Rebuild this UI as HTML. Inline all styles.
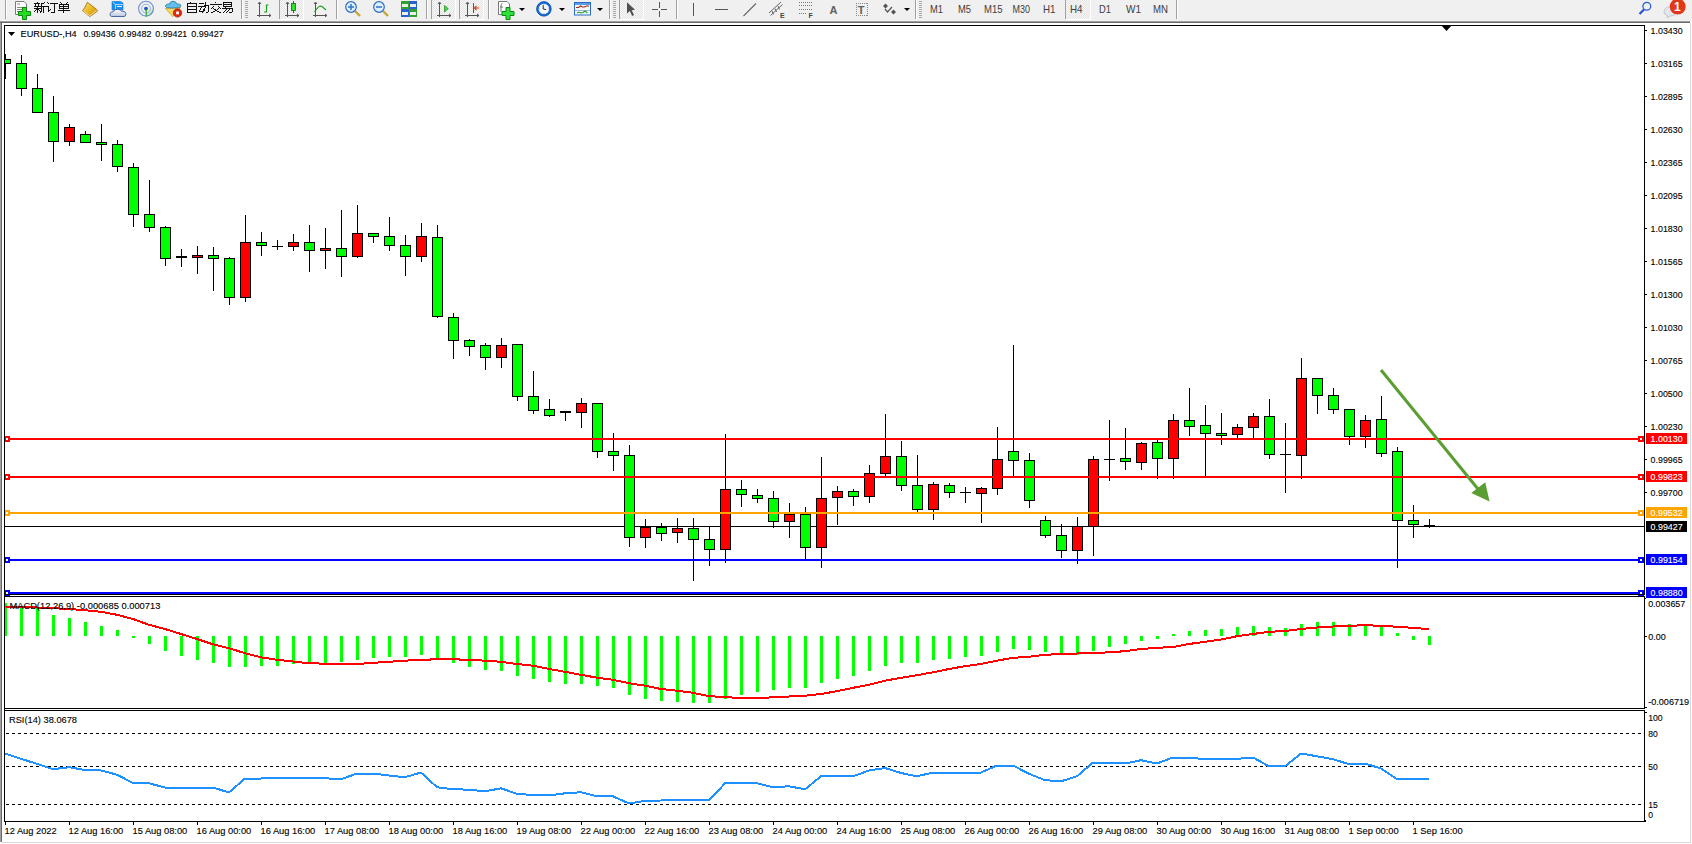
<!DOCTYPE html><html><head><meta charset="utf-8"><title>EURUSD H4</title><style>html,body{margin:0;padding:0;background:#fff;width:1692px;height:844px;overflow:hidden}svg{display:block}text{font-family:"Liberation Sans",sans-serif}</style></head><body>
<svg width="1692" height="844" viewBox="0 0 1692 844">
<g shape-rendering="crispEdges">
<rect x="0" y="0" width="1692" height="844" fill="#ffffff"/>
<rect x="0" y="0" width="1692" height="21" fill="#F0F0F0"/>
<rect x="0" y="21" width="1690" height="1" fill="#A0A0A0"/>
<rect x="0" y="22" width="1690" height="1" fill="#696969"/>
<rect x="0" y="23" width="1" height="819" fill="#A0A0A0"/>
<rect x="1" y="23" width="1" height="819" fill="#696969"/>
<rect x="1690" y="23" width="1" height="819" fill="#D8D8D8"/>
<rect x="2" y="842" width="1689" height="1" fill="#D8D8D8"/>
</g>
<g shape-rendering="crispEdges">
<rect x="5" y="526" width="1639" height="1" fill="#000"/>
<defs><clipPath id="mainclip"><rect x="5" y="26" width="1639" height="568"/></clipPath></defs>
<g clip-path="url(#mainclip)">
<rect x="5" y="54" width="1" height="25" fill="#000"/>
<rect x="0" y="59" width="11" height="5" fill="#000"/>
<rect x="1" y="60" width="9" height="3" fill="#00FF00"/>
<rect x="21" y="55" width="1" height="41" fill="#000"/>
<rect x="16" y="63" width="11" height="26" fill="#000"/>
<rect x="17" y="64" width="9" height="24" fill="#00FF00"/>
<rect x="37" y="74" width="1" height="39" fill="#000"/>
<rect x="32" y="88" width="11" height="25" fill="#000"/>
<rect x="33" y="89" width="9" height="23" fill="#00FF00"/>
<rect x="53" y="96" width="1" height="66" fill="#000"/>
<rect x="48" y="112" width="11" height="30" fill="#000"/>
<rect x="49" y="113" width="9" height="28" fill="#00FF00"/>
<rect x="69" y="124" width="1" height="22" fill="#000"/>
<rect x="64" y="127" width="11" height="15" fill="#000"/>
<rect x="65" y="128" width="9" height="13" fill="#FF0000"/>
<rect x="85" y="131" width="1" height="12" fill="#000"/>
<rect x="80" y="134" width="11" height="9" fill="#000"/>
<rect x="81" y="135" width="9" height="7" fill="#00FF00"/>
<rect x="101" y="124" width="1" height="37" fill="#000"/>
<rect x="96" y="142" width="11" height="3" fill="#000"/>
<rect x="97" y="143" width="9" height="1" fill="#00FF00"/>
<rect x="117" y="140" width="1" height="32" fill="#000"/>
<rect x="112" y="144" width="11" height="23" fill="#000"/>
<rect x="113" y="145" width="9" height="21" fill="#00FF00"/>
<rect x="133" y="163" width="1" height="64" fill="#000"/>
<rect x="128" y="167" width="11" height="48" fill="#000"/>
<rect x="129" y="168" width="9" height="46" fill="#00FF00"/>
<rect x="149" y="180" width="1" height="52" fill="#000"/>
<rect x="144" y="214" width="11" height="14" fill="#000"/>
<rect x="145" y="215" width="9" height="12" fill="#00FF00"/>
<rect x="165" y="226" width="1" height="40" fill="#000"/>
<rect x="160" y="227" width="11" height="32" fill="#000"/>
<rect x="161" y="228" width="9" height="30" fill="#00FF00"/>
<rect x="181" y="249" width="1" height="18" fill="#000"/>
<rect x="176" y="256" width="11" height="2" fill="#000"/>
<rect x="197" y="246" width="1" height="28" fill="#000"/>
<rect x="192" y="255" width="11" height="3" fill="#000"/>
<rect x="193" y="256" width="9" height="1" fill="#FF0000"/>
<rect x="213" y="247" width="1" height="44" fill="#000"/>
<rect x="208" y="255" width="11" height="4" fill="#000"/>
<rect x="209" y="256" width="9" height="2" fill="#00FF00"/>
<rect x="229" y="257" width="1" height="48" fill="#000"/>
<rect x="224" y="258" width="11" height="40" fill="#000"/>
<rect x="225" y="259" width="9" height="38" fill="#00FF00"/>
<rect x="245" y="215" width="1" height="87" fill="#000"/>
<rect x="240" y="242" width="11" height="56" fill="#000"/>
<rect x="241" y="243" width="9" height="54" fill="#FF0000"/>
<rect x="261" y="232" width="1" height="24" fill="#000"/>
<rect x="256" y="242" width="11" height="4" fill="#000"/>
<rect x="257" y="243" width="9" height="2" fill="#00FF00"/>
<rect x="277" y="240" width="1" height="10" fill="#000"/>
<rect x="272" y="246" width="11" height="1" fill="#000"/>
<rect x="293" y="234" width="1" height="17" fill="#000"/>
<rect x="288" y="242" width="11" height="5" fill="#000"/>
<rect x="289" y="243" width="9" height="3" fill="#FF0000"/>
<rect x="309" y="225" width="1" height="47" fill="#000"/>
<rect x="304" y="242" width="11" height="9" fill="#000"/>
<rect x="305" y="243" width="9" height="7" fill="#00FF00"/>
<rect x="325" y="228" width="1" height="41" fill="#000"/>
<rect x="320" y="248" width="11" height="3" fill="#000"/>
<rect x="321" y="249" width="9" height="1" fill="#FF0000"/>
<rect x="341" y="210" width="1" height="67" fill="#000"/>
<rect x="336" y="248" width="11" height="9" fill="#000"/>
<rect x="337" y="249" width="9" height="7" fill="#00FF00"/>
<rect x="357" y="205" width="1" height="53" fill="#000"/>
<rect x="352" y="233" width="11" height="24" fill="#000"/>
<rect x="353" y="234" width="9" height="22" fill="#FF0000"/>
<rect x="373" y="233" width="1" height="10" fill="#000"/>
<rect x="368" y="233" width="11" height="4" fill="#000"/>
<rect x="369" y="234" width="9" height="2" fill="#00FF00"/>
<rect x="389" y="217" width="1" height="34" fill="#000"/>
<rect x="384" y="236" width="11" height="10" fill="#000"/>
<rect x="385" y="237" width="9" height="8" fill="#00FF00"/>
<rect x="405" y="235" width="1" height="41" fill="#000"/>
<rect x="400" y="245" width="11" height="12" fill="#000"/>
<rect x="401" y="246" width="9" height="10" fill="#00FF00"/>
<rect x="421" y="223" width="1" height="39" fill="#000"/>
<rect x="416" y="236" width="11" height="21" fill="#000"/>
<rect x="417" y="237" width="9" height="19" fill="#FF0000"/>
<rect x="437" y="225" width="1" height="93" fill="#000"/>
<rect x="432" y="237" width="11" height="80" fill="#000"/>
<rect x="433" y="238" width="9" height="78" fill="#00FF00"/>
<rect x="453" y="313" width="1" height="46" fill="#000"/>
<rect x="448" y="317" width="11" height="24" fill="#000"/>
<rect x="449" y="318" width="9" height="22" fill="#00FF00"/>
<rect x="469" y="339" width="1" height="17" fill="#000"/>
<rect x="464" y="340" width="11" height="7" fill="#000"/>
<rect x="465" y="341" width="9" height="5" fill="#00FF00"/>
<rect x="485" y="343" width="1" height="27" fill="#000"/>
<rect x="480" y="345" width="11" height="13" fill="#000"/>
<rect x="481" y="346" width="9" height="11" fill="#00FF00"/>
<rect x="501" y="338" width="1" height="30" fill="#000"/>
<rect x="496" y="345" width="11" height="13" fill="#000"/>
<rect x="497" y="346" width="9" height="11" fill="#FF0000"/>
<rect x="517" y="344" width="1" height="57" fill="#000"/>
<rect x="512" y="344" width="11" height="53" fill="#000"/>
<rect x="513" y="345" width="9" height="51" fill="#00FF00"/>
<rect x="533" y="371" width="1" height="43" fill="#000"/>
<rect x="528" y="396" width="11" height="15" fill="#000"/>
<rect x="529" y="397" width="9" height="13" fill="#00FF00"/>
<rect x="549" y="399" width="1" height="18" fill="#000"/>
<rect x="544" y="409" width="11" height="7" fill="#000"/>
<rect x="545" y="410" width="9" height="5" fill="#00FF00"/>
<rect x="565" y="411" width="1" height="10" fill="#000"/>
<rect x="560" y="411" width="11" height="2" fill="#000"/>
<rect x="581" y="398" width="1" height="30" fill="#000"/>
<rect x="576" y="403" width="11" height="10" fill="#000"/>
<rect x="577" y="404" width="9" height="8" fill="#FF0000"/>
<rect x="597" y="403" width="1" height="55" fill="#000"/>
<rect x="592" y="403" width="11" height="49" fill="#000"/>
<rect x="593" y="404" width="9" height="47" fill="#00FF00"/>
<rect x="613" y="433" width="1" height="38" fill="#000"/>
<rect x="608" y="451" width="11" height="5" fill="#000"/>
<rect x="609" y="452" width="9" height="3" fill="#00FF00"/>
<rect x="629" y="445" width="1" height="102" fill="#000"/>
<rect x="624" y="455" width="11" height="83" fill="#000"/>
<rect x="625" y="456" width="9" height="81" fill="#00FF00"/>
<rect x="645" y="519" width="1" height="29" fill="#000"/>
<rect x="640" y="527" width="11" height="11" fill="#000"/>
<rect x="641" y="528" width="9" height="9" fill="#FF0000"/>
<rect x="661" y="523" width="1" height="18" fill="#000"/>
<rect x="656" y="527" width="11" height="7" fill="#000"/>
<rect x="657" y="528" width="9" height="5" fill="#00FF00"/>
<rect x="677" y="518" width="1" height="25" fill="#000"/>
<rect x="672" y="528" width="11" height="5" fill="#000"/>
<rect x="673" y="529" width="9" height="3" fill="#FF0000"/>
<rect x="693" y="518" width="1" height="63" fill="#000"/>
<rect x="688" y="528" width="11" height="12" fill="#000"/>
<rect x="689" y="529" width="9" height="10" fill="#00FF00"/>
<rect x="709" y="526" width="1" height="40" fill="#000"/>
<rect x="704" y="539" width="11" height="11" fill="#000"/>
<rect x="705" y="540" width="9" height="9" fill="#00FF00"/>
<rect x="725" y="434" width="1" height="129" fill="#000"/>
<rect x="720" y="489" width="11" height="61" fill="#000"/>
<rect x="721" y="490" width="9" height="59" fill="#FF0000"/>
<rect x="741" y="480" width="1" height="27" fill="#000"/>
<rect x="736" y="489" width="11" height="6" fill="#000"/>
<rect x="737" y="490" width="9" height="4" fill="#00FF00"/>
<rect x="757" y="489" width="1" height="14" fill="#000"/>
<rect x="752" y="495" width="11" height="4" fill="#000"/>
<rect x="753" y="496" width="9" height="2" fill="#00FF00"/>
<rect x="773" y="491" width="1" height="37" fill="#000"/>
<rect x="768" y="498" width="11" height="24" fill="#000"/>
<rect x="769" y="499" width="9" height="22" fill="#00FF00"/>
<rect x="789" y="503" width="1" height="35" fill="#000"/>
<rect x="784" y="514" width="11" height="8" fill="#000"/>
<rect x="785" y="515" width="9" height="6" fill="#FF0000"/>
<rect x="805" y="507" width="1" height="53" fill="#000"/>
<rect x="800" y="514" width="11" height="34" fill="#000"/>
<rect x="801" y="515" width="9" height="32" fill="#00FF00"/>
<rect x="821" y="457" width="1" height="111" fill="#000"/>
<rect x="816" y="498" width="11" height="50" fill="#000"/>
<rect x="817" y="499" width="9" height="48" fill="#FF0000"/>
<rect x="837" y="486" width="1" height="39" fill="#000"/>
<rect x="832" y="491" width="11" height="7" fill="#000"/>
<rect x="833" y="492" width="9" height="5" fill="#FF0000"/>
<rect x="853" y="489" width="1" height="17" fill="#000"/>
<rect x="848" y="491" width="11" height="6" fill="#000"/>
<rect x="849" y="492" width="9" height="4" fill="#00FF00"/>
<rect x="869" y="465" width="1" height="38" fill="#000"/>
<rect x="864" y="473" width="11" height="24" fill="#000"/>
<rect x="865" y="474" width="9" height="22" fill="#FF0000"/>
<rect x="885" y="414" width="1" height="63" fill="#000"/>
<rect x="880" y="456" width="11" height="18" fill="#000"/>
<rect x="881" y="457" width="9" height="16" fill="#FF0000"/>
<rect x="901" y="441" width="1" height="50" fill="#000"/>
<rect x="896" y="456" width="11" height="30" fill="#000"/>
<rect x="897" y="457" width="9" height="28" fill="#00FF00"/>
<rect x="917" y="455" width="1" height="57" fill="#000"/>
<rect x="912" y="485" width="11" height="25" fill="#000"/>
<rect x="913" y="486" width="9" height="23" fill="#00FF00"/>
<rect x="933" y="482" width="1" height="38" fill="#000"/>
<rect x="928" y="484" width="11" height="26" fill="#000"/>
<rect x="929" y="485" width="9" height="24" fill="#FF0000"/>
<rect x="949" y="483" width="1" height="15" fill="#000"/>
<rect x="944" y="485" width="11" height="8" fill="#000"/>
<rect x="945" y="486" width="9" height="6" fill="#00FF00"/>
<rect x="965" y="487" width="1" height="16" fill="#000"/>
<rect x="960" y="492" width="11" height="1" fill="#000"/>
<rect x="981" y="487" width="1" height="36" fill="#000"/>
<rect x="976" y="488" width="11" height="6" fill="#000"/>
<rect x="977" y="489" width="9" height="4" fill="#FF0000"/>
<rect x="997" y="427" width="1" height="68" fill="#000"/>
<rect x="992" y="459" width="11" height="30" fill="#000"/>
<rect x="993" y="460" width="9" height="28" fill="#FF0000"/>
<rect x="1013" y="345" width="1" height="132" fill="#000"/>
<rect x="1008" y="451" width="11" height="10" fill="#000"/>
<rect x="1009" y="452" width="9" height="8" fill="#00FF00"/>
<rect x="1029" y="453" width="1" height="55" fill="#000"/>
<rect x="1024" y="460" width="11" height="41" fill="#000"/>
<rect x="1025" y="461" width="9" height="39" fill="#00FF00"/>
<rect x="1045" y="516" width="1" height="22" fill="#000"/>
<rect x="1040" y="520" width="11" height="16" fill="#000"/>
<rect x="1041" y="521" width="9" height="14" fill="#00FF00"/>
<rect x="1061" y="524" width="1" height="34" fill="#000"/>
<rect x="1056" y="535" width="11" height="16" fill="#000"/>
<rect x="1057" y="536" width="9" height="14" fill="#00FF00"/>
<rect x="1077" y="517" width="1" height="47" fill="#000"/>
<rect x="1072" y="526" width="11" height="25" fill="#000"/>
<rect x="1073" y="527" width="9" height="23" fill="#FF0000"/>
<rect x="1093" y="456" width="1" height="100" fill="#000"/>
<rect x="1088" y="459" width="11" height="68" fill="#000"/>
<rect x="1089" y="460" width="9" height="66" fill="#FF0000"/>
<rect x="1109" y="420" width="1" height="61" fill="#000"/>
<rect x="1104" y="459" width="11" height="1" fill="#000"/>
<rect x="1125" y="428" width="1" height="42" fill="#000"/>
<rect x="1120" y="458" width="11" height="4" fill="#000"/>
<rect x="1121" y="459" width="9" height="2" fill="#00FF00"/>
<rect x="1141" y="442" width="1" height="28" fill="#000"/>
<rect x="1136" y="443" width="11" height="20" fill="#000"/>
<rect x="1137" y="444" width="9" height="18" fill="#FF0000"/>
<rect x="1157" y="440" width="1" height="39" fill="#000"/>
<rect x="1152" y="442" width="11" height="17" fill="#000"/>
<rect x="1153" y="443" width="9" height="15" fill="#00FF00"/>
<rect x="1173" y="414" width="1" height="65" fill="#000"/>
<rect x="1168" y="420" width="11" height="39" fill="#000"/>
<rect x="1169" y="421" width="9" height="37" fill="#FF0000"/>
<rect x="1189" y="388" width="1" height="48" fill="#000"/>
<rect x="1184" y="420" width="11" height="7" fill="#000"/>
<rect x="1185" y="421" width="9" height="5" fill="#00FF00"/>
<rect x="1205" y="405" width="1" height="72" fill="#000"/>
<rect x="1200" y="425" width="11" height="9" fill="#000"/>
<rect x="1201" y="426" width="9" height="7" fill="#00FF00"/>
<rect x="1221" y="413" width="1" height="32" fill="#000"/>
<rect x="1216" y="433" width="11" height="3" fill="#000"/>
<rect x="1217" y="434" width="9" height="1" fill="#00FF00"/>
<rect x="1237" y="424" width="1" height="15" fill="#000"/>
<rect x="1232" y="427" width="11" height="8" fill="#000"/>
<rect x="1233" y="428" width="9" height="6" fill="#FF0000"/>
<rect x="1253" y="413" width="1" height="25" fill="#000"/>
<rect x="1248" y="416" width="11" height="12" fill="#000"/>
<rect x="1249" y="417" width="9" height="10" fill="#FF0000"/>
<rect x="1269" y="399" width="1" height="60" fill="#000"/>
<rect x="1264" y="416" width="11" height="39" fill="#000"/>
<rect x="1265" y="417" width="9" height="37" fill="#00FF00"/>
<rect x="1285" y="423" width="1" height="70" fill="#000"/>
<rect x="1280" y="454" width="11" height="1" fill="#000"/>
<rect x="1301" y="358" width="1" height="121" fill="#000"/>
<rect x="1296" y="378" width="11" height="78" fill="#000"/>
<rect x="1297" y="379" width="9" height="76" fill="#FF0000"/>
<rect x="1317" y="378" width="1" height="36" fill="#000"/>
<rect x="1312" y="378" width="11" height="18" fill="#000"/>
<rect x="1313" y="379" width="9" height="16" fill="#00FF00"/>
<rect x="1333" y="388" width="1" height="26" fill="#000"/>
<rect x="1328" y="395" width="11" height="15" fill="#000"/>
<rect x="1329" y="396" width="9" height="13" fill="#00FF00"/>
<rect x="1349" y="409" width="1" height="36" fill="#000"/>
<rect x="1344" y="409" width="11" height="28" fill="#000"/>
<rect x="1345" y="410" width="9" height="26" fill="#00FF00"/>
<rect x="1365" y="415" width="1" height="33" fill="#000"/>
<rect x="1360" y="420" width="11" height="17" fill="#000"/>
<rect x="1361" y="421" width="9" height="15" fill="#FF0000"/>
<rect x="1381" y="396" width="1" height="61" fill="#000"/>
<rect x="1376" y="419" width="11" height="35" fill="#000"/>
<rect x="1377" y="420" width="9" height="33" fill="#00FF00"/>
<rect x="1397" y="447" width="1" height="121" fill="#000"/>
<rect x="1392" y="451" width="11" height="70" fill="#000"/>
<rect x="1393" y="452" width="9" height="68" fill="#00FF00"/>
<rect x="1413" y="505" width="1" height="33" fill="#000"/>
<rect x="1408" y="520" width="11" height="5" fill="#000"/>
<rect x="1409" y="521" width="9" height="3" fill="#00FF00"/>
<rect x="1429" y="519" width="1" height="9" fill="#000"/>
<rect x="1424" y="525" width="11" height="1" fill="#000"/>
</g>
<rect x="5" y="438" width="1639" height="2" fill="#FF0000"/>
<rect x="4" y="436" width="6" height="6" fill="#FF0000"/>
<rect x="6" y="438" width="2" height="2" fill="#fff"/>
<rect x="1638" y="436" width="6" height="6" fill="#FF0000"/>
<rect x="1640" y="438" width="2" height="2" fill="#fff"/>
<rect x="5" y="476" width="1639" height="2" fill="#FF0000"/>
<rect x="4" y="474" width="6" height="6" fill="#FF0000"/>
<rect x="6" y="476" width="2" height="2" fill="#fff"/>
<rect x="1638" y="474" width="6" height="6" fill="#FF0000"/>
<rect x="1640" y="476" width="2" height="2" fill="#fff"/>
<rect x="5" y="512" width="1639" height="2" fill="#FFA500"/>
<rect x="4" y="510" width="6" height="6" fill="#FFA500"/>
<rect x="6" y="512" width="2" height="2" fill="#fff"/>
<rect x="1638" y="510" width="6" height="6" fill="#FFA500"/>
<rect x="1640" y="512" width="2" height="2" fill="#fff"/>
<rect x="5" y="559" width="1639" height="2" fill="#0000FF"/>
<rect x="4" y="557" width="6" height="6" fill="#0000FF"/>
<rect x="6" y="559" width="2" height="2" fill="#fff"/>
<rect x="1638" y="557" width="6" height="6" fill="#0000FF"/>
<rect x="1640" y="559" width="2" height="2" fill="#fff"/>
<rect x="5" y="592" width="1639" height="2" fill="#0000FF"/>
<rect x="4" y="590" width="6" height="6" fill="#0000FF"/>
<rect x="6" y="592" width="2" height="2" fill="#fff"/>
<rect x="1638" y="590" width="6" height="6" fill="#0000FF"/>
<rect x="1640" y="592" width="2" height="2" fill="#fff"/>
</g>
<g fill="#5A9E32" stroke="none">
<line x1="1381" y1="370" x2="1478" y2="489" stroke="#5A9E32" stroke-width="3"/>
<polygon points="1471.3,492.9 1485.2,482.3 1489.6,501.5"/>
</g>
<polygon points="8,32 15,32 11.5,36" fill="#000"/>
<text x="20.6" y="37" font-size="9.6" stroke="#000" stroke-width="0.12" textLength="56" lengthAdjust="spacingAndGlyphs" fill="#000">EURUSD-,H4</text>
<text x="83.4" y="37" font-size="9.6" stroke="#000" stroke-width="0.12" textLength="32.2" lengthAdjust="spacingAndGlyphs" fill="#000">0.99436</text>
<text x="119" y="37" font-size="9.6" stroke="#000" stroke-width="0.12" textLength="32.5" lengthAdjust="spacingAndGlyphs" fill="#000">0.99482</text>
<text x="155.3" y="37" font-size="9.6" stroke="#000" stroke-width="0.12" textLength="31.9" lengthAdjust="spacingAndGlyphs" fill="#000">0.99421</text>
<text x="191.2" y="37" font-size="9.6" stroke="#000" stroke-width="0.12" textLength="32.6" lengthAdjust="spacingAndGlyphs" fill="#000">0.99427</text>
<polygon points="1441,25 1452,25 1446.5,31" fill="#000"/>
<g shape-rendering="crispEdges">
<rect x="5" y="603" width="2" height="33" fill="#00FF00"/>
<rect x="20" y="606" width="3" height="30" fill="#00FF00"/>
<rect x="36" y="608" width="3" height="28" fill="#00FF00"/>
<rect x="52" y="615" width="3" height="21" fill="#00FF00"/>
<rect x="68" y="618" width="3" height="18" fill="#00FF00"/>
<rect x="84" y="622" width="3" height="14" fill="#00FF00"/>
<rect x="100" y="626" width="3" height="10" fill="#00FF00"/>
<rect x="116" y="630" width="3" height="6" fill="#00FF00"/>
<rect x="132" y="636" width="3" height="2" fill="#00FF00"/>
<rect x="148" y="636" width="3" height="8" fill="#00FF00"/>
<rect x="164" y="636" width="3" height="15" fill="#00FF00"/>
<rect x="180" y="636" width="3" height="20" fill="#00FF00"/>
<rect x="196" y="636" width="3" height="24" fill="#00FF00"/>
<rect x="212" y="636" width="3" height="27" fill="#00FF00"/>
<rect x="228" y="636" width="3" height="31" fill="#00FF00"/>
<rect x="244" y="636" width="3" height="31" fill="#00FF00"/>
<rect x="260" y="636" width="3" height="30" fill="#00FF00"/>
<rect x="276" y="636" width="3" height="30" fill="#00FF00"/>
<rect x="292" y="636" width="3" height="28" fill="#00FF00"/>
<rect x="308" y="636" width="3" height="26" fill="#00FF00"/>
<rect x="324" y="636" width="3" height="27" fill="#00FF00"/>
<rect x="340" y="636" width="3" height="26" fill="#00FF00"/>
<rect x="356" y="636" width="3" height="24" fill="#00FF00"/>
<rect x="372" y="636" width="3" height="22" fill="#00FF00"/>
<rect x="388" y="636" width="3" height="21" fill="#00FF00"/>
<rect x="404" y="636" width="3" height="21" fill="#00FF00"/>
<rect x="420" y="636" width="3" height="19" fill="#00FF00"/>
<rect x="436" y="636" width="3" height="22" fill="#00FF00"/>
<rect x="452" y="636" width="3" height="27" fill="#00FF00"/>
<rect x="468" y="636" width="3" height="31" fill="#00FF00"/>
<rect x="484" y="636" width="3" height="34" fill="#00FF00"/>
<rect x="500" y="636" width="3" height="35" fill="#00FF00"/>
<rect x="516" y="636" width="3" height="40" fill="#00FF00"/>
<rect x="532" y="636" width="3" height="43" fill="#00FF00"/>
<rect x="548" y="636" width="3" height="46" fill="#00FF00"/>
<rect x="564" y="636" width="3" height="48" fill="#00FF00"/>
<rect x="580" y="636" width="3" height="48" fill="#00FF00"/>
<rect x="596" y="636" width="3" height="50" fill="#00FF00"/>
<rect x="612" y="636" width="3" height="52" fill="#00FF00"/>
<rect x="628" y="636" width="3" height="59" fill="#00FF00"/>
<rect x="644" y="636" width="3" height="63" fill="#00FF00"/>
<rect x="660" y="636" width="3" height="65" fill="#00FF00"/>
<rect x="676" y="636" width="3" height="66" fill="#00FF00"/>
<rect x="692" y="636" width="3" height="67" fill="#00FF00"/>
<rect x="708" y="636" width="3" height="67" fill="#00FF00"/>
<rect x="724" y="636" width="3" height="63" fill="#00FF00"/>
<rect x="740" y="636" width="3" height="59" fill="#00FF00"/>
<rect x="756" y="636" width="3" height="56" fill="#00FF00"/>
<rect x="772" y="636" width="3" height="54" fill="#00FF00"/>
<rect x="788" y="636" width="3" height="52" fill="#00FF00"/>
<rect x="804" y="636" width="3" height="52" fill="#00FF00"/>
<rect x="820" y="636" width="3" height="47" fill="#00FF00"/>
<rect x="836" y="636" width="3" height="43" fill="#00FF00"/>
<rect x="852" y="636" width="3" height="40" fill="#00FF00"/>
<rect x="868" y="636" width="3" height="35" fill="#00FF00"/>
<rect x="884" y="636" width="3" height="30" fill="#00FF00"/>
<rect x="900" y="636" width="3" height="27" fill="#00FF00"/>
<rect x="916" y="636" width="3" height="27" fill="#00FF00"/>
<rect x="932" y="636" width="3" height="24" fill="#00FF00"/>
<rect x="948" y="636" width="3" height="23" fill="#00FF00"/>
<rect x="964" y="636" width="3" height="21" fill="#00FF00"/>
<rect x="980" y="636" width="3" height="20" fill="#00FF00"/>
<rect x="996" y="636" width="3" height="16" fill="#00FF00"/>
<rect x="1012" y="636" width="3" height="13" fill="#00FF00"/>
<rect x="1028" y="636" width="3" height="14" fill="#00FF00"/>
<rect x="1044" y="636" width="3" height="16" fill="#00FF00"/>
<rect x="1060" y="636" width="3" height="19" fill="#00FF00"/>
<rect x="1076" y="636" width="3" height="19" fill="#00FF00"/>
<rect x="1092" y="636" width="3" height="15" fill="#00FF00"/>
<rect x="1108" y="636" width="3" height="11" fill="#00FF00"/>
<rect x="1124" y="636" width="3" height="8" fill="#00FF00"/>
<rect x="1140" y="636" width="3" height="5" fill="#00FF00"/>
<rect x="1156" y="636" width="3" height="3" fill="#00FF00"/>
<rect x="1172" y="634" width="3" height="2" fill="#00FF00"/>
<rect x="1188" y="631" width="3" height="5" fill="#00FF00"/>
<rect x="1204" y="630" width="3" height="6" fill="#00FF00"/>
<rect x="1220" y="629" width="3" height="7" fill="#00FF00"/>
<rect x="1236" y="627" width="3" height="9" fill="#00FF00"/>
<rect x="1252" y="626" width="3" height="10" fill="#00FF00"/>
<rect x="1268" y="627" width="3" height="9" fill="#00FF00"/>
<rect x="1284" y="628" width="3" height="8" fill="#00FF00"/>
<rect x="1300" y="624" width="3" height="12" fill="#00FF00"/>
<rect x="1316" y="622" width="3" height="14" fill="#00FF00"/>
<rect x="1332" y="622" width="3" height="14" fill="#00FF00"/>
<rect x="1348" y="624" width="3" height="12" fill="#00FF00"/>
<rect x="1364" y="625" width="3" height="11" fill="#00FF00"/>
<rect x="1380" y="626" width="3" height="10" fill="#00FF00"/>
<rect x="1396" y="633" width="3" height="3" fill="#00FF00"/>
<rect x="1412" y="636" width="3" height="4" fill="#00FF00"/>
<rect x="1428" y="636" width="3" height="9" fill="#00FF00"/>
</g>
<polyline points="5,606.5 21,606.8 37,607.5 53,608.2 69,609.0 85,610.2 101,611.8 117,614.8 133,619.0 149,624.8 165,629.0 181,634.0 197,639.0 213,644.3 229,648.2 245,653.2 261,657.3 277,659.8 293,661.5 309,663.2 325,663.7 341,664.3 357,664.0 373,662.8 389,661.8 405,660.7 421,659.8 437,659.3 453,659.3 469,659.8 485,660.7 501,661.8 517,664.0 533,665.7 549,669.0 565,671.8 581,674.8 597,677.7 613,679.8 629,683.2 645,685.7 661,689.0 677,690.7 693,692.8 709,696.2 725,697.0 741,698.2 757,698.2 773,697.3 789,696.5 805,695.7 821,694.0 837,691.2 853,687.8 869,684.8 885,680.7 901,677.8 917,675.2 933,672.3 949,669.0 965,666.2 981,664.0 997,660.7 1013,657.8 1029,656.8 1045,654.8 1061,654.0 1077,653.5 1093,653.2 1109,652.3 1125,651.2 1141,649.0 1157,647.8 1173,647.0 1189,644.0 1205,641.8 1221,639.5 1237,636.2 1253,634.0 1269,631.8 1285,631.0 1301,629.0 1317,627.5 1333,626.5 1349,625.7 1365,625.3 1381,625.7 1397,626.8 1413,627.8 1429,629.3" fill="none" stroke="#FF0000" stroke-width="2" shape-rendering="crispEdges"/>
<text x="9.4" y="609" font-size="9.6" stroke="#000" stroke-width="0.12" textLength="151" lengthAdjust="spacingAndGlyphs" fill="#000">MACD(12,26,9) -0.000685 0.000713</text>
<g shape-rendering="crispEdges">
<line x1="6" y1="733.5" x2="1642" y2="733.5" stroke="#000" stroke-width="1" stroke-dasharray="3 3"/>
<line x1="6" y1="766.5" x2="1642" y2="766.5" stroke="#000" stroke-width="1" stroke-dasharray="3 3"/>
<line x1="6" y1="804.5" x2="1642" y2="804.5" stroke="#000" stroke-width="1" stroke-dasharray="3 3"/>
</g>
<polyline points="5,753.5 21,758.8 37,763.8 53,769.2 69,767.2 85,770.0 101,770.5 117,774.7 133,783.0 149,783.3 165,787.5 181,787.5 197,787.5 213,787.5 229,792.5 245,778.5 261,778.5 277,778.3 293,777.5 309,778.3 325,778.3 341,779.2 357,773.5 373,773.5 389,775.5 405,777.2 421,772.5 437,787.2 453,789.2 469,789.7 485,791.3 501,788.3 517,793.8 533,795.0 549,795.5 565,793.3 581,792.2 597,796.3 613,796.3 629,803.5 645,800.8 661,800.5 677,799.7 693,800.2 709,800.5 725,783.3 741,783.3 757,783.3 773,787.2 789,786.3 805,789.3 821,776.3 837,776.3 853,776.3 869,770.5 885,768.0 901,773.0 917,776.3 933,772.5 949,772.5 965,772.5 981,772.5 997,765.5 1013,765.5 1029,773.8 1045,780.2 1061,781.3 1077,776.3 1093,762.5 1109,762.5 1125,763.5 1141,760.2 1157,763.5 1173,757.5 1189,757.5 1205,759.2 1221,759.2 1237,758.8 1253,757.5 1269,766.3 1285,766.3 1301,753.5 1317,756.3 1333,759.2 1349,764.2 1365,763.5 1381,768.5 1397,779.2 1413,779.2 1429,779.2" fill="none" stroke="#1E90FF" stroke-width="2" shape-rendering="crispEdges"/>
<text x="9" y="723" font-size="9.6" stroke="#000" stroke-width="0.12" textLength="68" lengthAdjust="spacingAndGlyphs" fill="#000">RSI(14) 38.0678</text>
<g shape-rendering="crispEdges" fill="#000">
<rect x="4" y="25" width="1641" height="1"/>
<rect x="4" y="594" width="1641" height="1"/>
<rect x="4" y="596" width="1641" height="1"/>
<rect x="4" y="708" width="1641" height="1"/><rect x="1645" y="707" width="2" height="1"/>
<rect x="4" y="710" width="1641" height="1"/>
<rect x="4" y="821" width="1642" height="1"/><rect x="1645" y="820" width="1" height="1"/>
<rect x="4" y="25" width="1" height="797"/>
<rect x="1644" y="25" width="1" height="570"/><rect x="1644" y="596" width="1" height="113"/><rect x="1644" y="710" width="1" height="112"/><rect x="1645" y="712" width="2" height="1"/><rect x="1645" y="598" width="1" height="1"/>
<rect x="1645" y="30" width="2" height="1"/>
<rect x="1645" y="63" width="2" height="1"/>
<rect x="1645" y="96" width="2" height="1"/>
<rect x="1645" y="129" width="2" height="1"/>
<rect x="1645" y="162" width="2" height="1"/>
<rect x="1645" y="195" width="2" height="1"/>
<rect x="1645" y="228" width="2" height="1"/>
<rect x="1645" y="261" width="2" height="1"/>
<rect x="1645" y="294" width="2" height="1"/>
<rect x="1645" y="327" width="2" height="1"/>
<rect x="1645" y="360" width="2" height="1"/>
<rect x="1645" y="393" width="2" height="1"/>
<rect x="1645" y="426" width="2" height="1"/>
<rect x="1645" y="459" width="2" height="1"/>
<rect x="1645" y="492" width="2" height="1"/>
<rect x="1645" y="636" width="2" height="1"/>
<rect x="5" y="822" width="1" height="3"/>
<rect x="69" y="822" width="1" height="3"/>
<rect x="133" y="822" width="1" height="3"/>
<rect x="197" y="822" width="1" height="3"/>
<rect x="261" y="822" width="1" height="3"/>
<rect x="325" y="822" width="1" height="3"/>
<rect x="389" y="822" width="1" height="3"/>
<rect x="453" y="822" width="1" height="3"/>
<rect x="517" y="822" width="1" height="3"/>
<rect x="581" y="822" width="1" height="3"/>
<rect x="645" y="822" width="1" height="3"/>
<rect x="709" y="822" width="1" height="3"/>
<rect x="773" y="822" width="1" height="3"/>
<rect x="837" y="822" width="1" height="3"/>
<rect x="901" y="822" width="1" height="3"/>
<rect x="965" y="822" width="1" height="3"/>
<rect x="1029" y="822" width="1" height="3"/>
<rect x="1093" y="822" width="1" height="3"/>
<rect x="1157" y="822" width="1" height="3"/>
<rect x="1221" y="822" width="1" height="3"/>
<rect x="1285" y="822" width="1" height="3"/>
<rect x="1349" y="822" width="1" height="3"/>
<rect x="1413" y="822" width="1" height="3"/>
</g>
<text x="1650.6" y="34" font-size="9.6" stroke="#000" stroke-width="0.12" textLength="32" lengthAdjust="spacingAndGlyphs" fill="#000">1.03430</text>
<text x="1650.6" y="67" font-size="9.6" stroke="#000" stroke-width="0.12" textLength="32" lengthAdjust="spacingAndGlyphs" fill="#000">1.03165</text>
<text x="1650.6" y="100" font-size="9.6" stroke="#000" stroke-width="0.12" textLength="32" lengthAdjust="spacingAndGlyphs" fill="#000">1.02895</text>
<text x="1650.6" y="133" font-size="9.6" stroke="#000" stroke-width="0.12" textLength="32" lengthAdjust="spacingAndGlyphs" fill="#000">1.02630</text>
<text x="1650.6" y="166" font-size="9.6" stroke="#000" stroke-width="0.12" textLength="32" lengthAdjust="spacingAndGlyphs" fill="#000">1.02365</text>
<text x="1650.6" y="199" font-size="9.6" stroke="#000" stroke-width="0.12" textLength="32" lengthAdjust="spacingAndGlyphs" fill="#000">1.02095</text>
<text x="1650.6" y="232" font-size="9.6" stroke="#000" stroke-width="0.12" textLength="32" lengthAdjust="spacingAndGlyphs" fill="#000">1.01830</text>
<text x="1650.6" y="265" font-size="9.6" stroke="#000" stroke-width="0.12" textLength="32" lengthAdjust="spacingAndGlyphs" fill="#000">1.01565</text>
<text x="1650.6" y="298" font-size="9.6" stroke="#000" stroke-width="0.12" textLength="32" lengthAdjust="spacingAndGlyphs" fill="#000">1.01300</text>
<text x="1650.6" y="331" font-size="9.6" stroke="#000" stroke-width="0.12" textLength="32" lengthAdjust="spacingAndGlyphs" fill="#000">1.01030</text>
<text x="1650.6" y="364" font-size="9.6" stroke="#000" stroke-width="0.12" textLength="32" lengthAdjust="spacingAndGlyphs" fill="#000">1.00765</text>
<text x="1650.6" y="397" font-size="9.6" stroke="#000" stroke-width="0.12" textLength="32" lengthAdjust="spacingAndGlyphs" fill="#000">1.00500</text>
<text x="1650.6" y="430" font-size="9.6" stroke="#000" stroke-width="0.12" textLength="32" lengthAdjust="spacingAndGlyphs" fill="#000">1.00230</text>
<text x="1650.6" y="463" font-size="9.6" stroke="#000" stroke-width="0.12" textLength="32" lengthAdjust="spacingAndGlyphs" fill="#000">0.99965</text>
<text x="1650.6" y="496" font-size="9.6" stroke="#000" stroke-width="0.12" textLength="32" lengthAdjust="spacingAndGlyphs" fill="#000">0.99700</text>
<g shape-rendering="crispEdges">
<rect x="1646" y="433" width="41" height="11" fill="#FF0000"/>
<rect x="1646" y="471" width="41" height="11" fill="#FF0000"/>
<rect x="1646" y="507" width="41" height="11" fill="#FFA500"/>
<rect x="1646" y="521" width="41" height="11" fill="#000000"/>
<rect x="1646" y="554" width="41" height="11" fill="#0000FF"/>
<rect x="1646" y="587" width="41" height="11" fill="#0000FF"/>
</g>
<text x="1650.6" y="442" font-size="9.6" stroke="#fff" stroke-width="0.12" textLength="32" lengthAdjust="spacingAndGlyphs" fill="#fff">1.00130</text>
<text x="1650.6" y="480" font-size="9.6" stroke="#fff" stroke-width="0.12" textLength="32" lengthAdjust="spacingAndGlyphs" fill="#fff">0.99823</text>
<text x="1650.6" y="516" font-size="9.6" stroke="#fff" stroke-width="0.12" textLength="32" lengthAdjust="spacingAndGlyphs" fill="#fff">0.99532</text>
<text x="1650.6" y="530" font-size="9.6" stroke="#fff" stroke-width="0.12" textLength="32" lengthAdjust="spacingAndGlyphs" fill="#fff">0.99427</text>
<text x="1650.6" y="563" font-size="9.6" stroke="#fff" stroke-width="0.12" textLength="32" lengthAdjust="spacingAndGlyphs" fill="#fff">0.99154</text>
<text x="1650.6" y="596" font-size="9.6" stroke="#fff" stroke-width="0.12" textLength="32" lengthAdjust="spacingAndGlyphs" fill="#fff">0.98880</text>
<text x="1648.2" y="607" font-size="9.6" stroke="#000" stroke-width="0.12" textLength="37" lengthAdjust="spacingAndGlyphs" fill="#000">0.003657</text>
<text x="1648.2" y="640" font-size="9.6" stroke="#000" stroke-width="0.12" textLength="17.5" lengthAdjust="spacingAndGlyphs" fill="#000">0.00</text>
<text x="1648.2" y="705" font-size="9.6" stroke="#000" stroke-width="0.12" textLength="41" lengthAdjust="spacingAndGlyphs" fill="#000">-0.006719</text>
<text x="1648.2" y="721" font-size="9.6" stroke="#000" stroke-width="0.12" textLength="14.5" lengthAdjust="spacingAndGlyphs" fill="#000">100</text>
<text x="1648.2" y="737" font-size="9.6" stroke="#000" stroke-width="0.12" textLength="9.5" lengthAdjust="spacingAndGlyphs" fill="#000">80</text>
<text x="1648.2" y="770" font-size="9.6" stroke="#000" stroke-width="0.12" textLength="9.5" lengthAdjust="spacingAndGlyphs" fill="#000">50</text>
<text x="1648.2" y="808" font-size="9.6" stroke="#000" stroke-width="0.12" textLength="9.5" lengthAdjust="spacingAndGlyphs" fill="#000">15</text>
<text x="1648.2" y="818" font-size="9.6" stroke="#000" stroke-width="0.12" textLength="4.8" lengthAdjust="spacingAndGlyphs" fill="#000">0</text>
<text x="4.5" y="834" font-size="9.3" stroke="#000" stroke-width="0.12" textLength="52.2" lengthAdjust="spacingAndGlyphs" fill="#000">12 Aug 2022</text>
<text x="68.5" y="834" font-size="9.3" stroke="#000" stroke-width="0.12" textLength="54.8" lengthAdjust="spacingAndGlyphs" fill="#000">12 Aug 16:00</text>
<text x="132.5" y="834" font-size="9.3" stroke="#000" stroke-width="0.12" textLength="54.8" lengthAdjust="spacingAndGlyphs" fill="#000">15 Aug 08:00</text>
<text x="196.5" y="834" font-size="9.3" stroke="#000" stroke-width="0.12" textLength="54.8" lengthAdjust="spacingAndGlyphs" fill="#000">16 Aug 00:00</text>
<text x="260.5" y="834" font-size="9.3" stroke="#000" stroke-width="0.12" textLength="54.8" lengthAdjust="spacingAndGlyphs" fill="#000">16 Aug 16:00</text>
<text x="324.5" y="834" font-size="9.3" stroke="#000" stroke-width="0.12" textLength="54.8" lengthAdjust="spacingAndGlyphs" fill="#000">17 Aug 08:00</text>
<text x="388.5" y="834" font-size="9.3" stroke="#000" stroke-width="0.12" textLength="54.8" lengthAdjust="spacingAndGlyphs" fill="#000">18 Aug 00:00</text>
<text x="452.5" y="834" font-size="9.3" stroke="#000" stroke-width="0.12" textLength="54.8" lengthAdjust="spacingAndGlyphs" fill="#000">18 Aug 16:00</text>
<text x="516.5" y="834" font-size="9.3" stroke="#000" stroke-width="0.12" textLength="54.8" lengthAdjust="spacingAndGlyphs" fill="#000">19 Aug 08:00</text>
<text x="580.5" y="834" font-size="9.3" stroke="#000" stroke-width="0.12" textLength="54.8" lengthAdjust="spacingAndGlyphs" fill="#000">22 Aug 00:00</text>
<text x="644.5" y="834" font-size="9.3" stroke="#000" stroke-width="0.12" textLength="54.8" lengthAdjust="spacingAndGlyphs" fill="#000">22 Aug 16:00</text>
<text x="708.5" y="834" font-size="9.3" stroke="#000" stroke-width="0.12" textLength="54.8" lengthAdjust="spacingAndGlyphs" fill="#000">23 Aug 08:00</text>
<text x="772.5" y="834" font-size="9.3" stroke="#000" stroke-width="0.12" textLength="54.8" lengthAdjust="spacingAndGlyphs" fill="#000">24 Aug 00:00</text>
<text x="836.5" y="834" font-size="9.3" stroke="#000" stroke-width="0.12" textLength="54.8" lengthAdjust="spacingAndGlyphs" fill="#000">24 Aug 16:00</text>
<text x="900.5" y="834" font-size="9.3" stroke="#000" stroke-width="0.12" textLength="54.8" lengthAdjust="spacingAndGlyphs" fill="#000">25 Aug 08:00</text>
<text x="964.5" y="834" font-size="9.3" stroke="#000" stroke-width="0.12" textLength="54.8" lengthAdjust="spacingAndGlyphs" fill="#000">26 Aug 00:00</text>
<text x="1028.5" y="834" font-size="9.3" stroke="#000" stroke-width="0.12" textLength="54.8" lengthAdjust="spacingAndGlyphs" fill="#000">26 Aug 16:00</text>
<text x="1092.5" y="834" font-size="9.3" stroke="#000" stroke-width="0.12" textLength="54.8" lengthAdjust="spacingAndGlyphs" fill="#000">29 Aug 08:00</text>
<text x="1156.5" y="834" font-size="9.3" stroke="#000" stroke-width="0.12" textLength="54.8" lengthAdjust="spacingAndGlyphs" fill="#000">30 Aug 00:00</text>
<text x="1220.5" y="834" font-size="9.3" stroke="#000" stroke-width="0.12" textLength="54.8" lengthAdjust="spacingAndGlyphs" fill="#000">30 Aug 16:00</text>
<text x="1284.5" y="834" font-size="9.3" stroke="#000" stroke-width="0.12" textLength="54.8" lengthAdjust="spacingAndGlyphs" fill="#000">31 Aug 08:00</text>
<text x="1348.5" y="834" font-size="9.3" stroke="#000" stroke-width="0.12" textLength="50.2" lengthAdjust="spacingAndGlyphs" fill="#000">1 Sep 00:00</text>
<text x="1412.5" y="834" font-size="9.3" stroke="#000" stroke-width="0.12" textLength="50.2" lengthAdjust="spacingAndGlyphs" fill="#000">1 Sep 16:00</text>
<g shape-rendering="crispEdges">
<rect x="5" y="0" width="1" height="19" fill="#A0A0A0"/><rect x="6" y="0" width="1" height="19" fill="#FFFFFF"/>
<rect x="241" y="0" width="1" height="19" fill="#A0A0A0"/><rect x="242" y="0" width="1" height="19" fill="#FFFFFF"/>
<rect x="245" y="1" width="3" height="1" fill="#A8A8A8"/>
<rect x="245" y="3" width="3" height="1" fill="#A8A8A8"/>
<rect x="245" y="5" width="3" height="1" fill="#A8A8A8"/>
<rect x="245" y="7" width="3" height="1" fill="#A8A8A8"/>
<rect x="245" y="9" width="3" height="1" fill="#A8A8A8"/>
<rect x="245" y="11" width="3" height="1" fill="#A8A8A8"/>
<rect x="245" y="13" width="3" height="1" fill="#A8A8A8"/>
<rect x="245" y="15" width="3" height="1" fill="#A8A8A8"/>
<rect x="245" y="17" width="3" height="1" fill="#A8A8A8"/>
<rect x="279" y="0" width="1" height="19" fill="#A0A0A0"/><rect x="280" y="0" width="1" height="19" fill="#FFFFFF"/>
<defs><pattern id="chk280" width="2" height="2" patternUnits="userSpaceOnUse"><rect width="2" height="2" fill="#F8F8F8"/><rect width="1" height="1" fill="#E4E4E4"/><rect x="1" y="1" width="1" height="1" fill="#E4E4E4"/></pattern></defs>
<rect x="280" y="0" width="23" height="19" fill="url(#chk280)"/>
<rect x="280" y="19" width="24" height="1" fill="#fff"/><rect x="303" y="0" width="1" height="19" fill="#fff"/>
<rect x="336" y="0" width="1" height="19" fill="#A0A0A0"/><rect x="337" y="0" width="1" height="19" fill="#FFFFFF"/>
<rect x="426" y="0" width="1" height="19" fill="#A0A0A0"/><rect x="427" y="0" width="1" height="19" fill="#FFFFFF"/>
<rect x="431" y="0" width="1" height="19" fill="#A0A0A0"/><rect x="432" y="0" width="1" height="19" fill="#FFFFFF"/>
<defs><pattern id="chk432" width="2" height="2" patternUnits="userSpaceOnUse"><rect width="2" height="2" fill="#F8F8F8"/><rect width="1" height="1" fill="#E4E4E4"/><rect x="1" y="1" width="1" height="1" fill="#E4E4E4"/></pattern></defs>
<rect x="432" y="0" width="23" height="19" fill="url(#chk432)"/>
<rect x="432" y="19" width="24" height="1" fill="#fff"/><rect x="455" y="0" width="1" height="19" fill="#fff"/>
<rect x="459" y="0" width="1" height="19" fill="#A0A0A0"/><rect x="460" y="0" width="1" height="19" fill="#FFFFFF"/>
<defs><pattern id="chk460" width="2" height="2" patternUnits="userSpaceOnUse"><rect width="2" height="2" fill="#F8F8F8"/><rect width="1" height="1" fill="#E4E4E4"/><rect x="1" y="1" width="1" height="1" fill="#E4E4E4"/></pattern></defs>
<rect x="460" y="0" width="23" height="19" fill="url(#chk460)"/>
<rect x="460" y="19" width="24" height="1" fill="#fff"/><rect x="483" y="0" width="1" height="19" fill="#fff"/>
<rect x="488" y="0" width="1" height="19" fill="#A0A0A0"/><rect x="489" y="0" width="1" height="19" fill="#FFFFFF"/>
<rect x="609" y="0" width="1" height="19" fill="#A0A0A0"/><rect x="610" y="0" width="1" height="19" fill="#FFFFFF"/>
<rect x="613" y="1" width="3" height="1" fill="#A8A8A8"/>
<rect x="613" y="3" width="3" height="1" fill="#A8A8A8"/>
<rect x="613" y="5" width="3" height="1" fill="#A8A8A8"/>
<rect x="613" y="7" width="3" height="1" fill="#A8A8A8"/>
<rect x="613" y="9" width="3" height="1" fill="#A8A8A8"/>
<rect x="613" y="11" width="3" height="1" fill="#A8A8A8"/>
<rect x="613" y="13" width="3" height="1" fill="#A8A8A8"/>
<rect x="613" y="15" width="3" height="1" fill="#A8A8A8"/>
<rect x="613" y="17" width="3" height="1" fill="#A8A8A8"/>
<rect x="619" y="0" width="1" height="19" fill="#A0A0A0"/><rect x="620" y="0" width="1" height="19" fill="#FFFFFF"/>
<defs><pattern id="chk620" width="2" height="2" patternUnits="userSpaceOnUse"><rect width="2" height="2" fill="#F8F8F8"/><rect width="1" height="1" fill="#E4E4E4"/><rect x="1" y="1" width="1" height="1" fill="#E4E4E4"/></pattern></defs>
<rect x="620" y="0" width="23" height="19" fill="url(#chk620)"/>
<rect x="620" y="19" width="24" height="1" fill="#fff"/><rect x="643" y="0" width="1" height="19" fill="#fff"/>
<rect x="676" y="0" width="1" height="19" fill="#A0A0A0"/><rect x="677" y="0" width="1" height="19" fill="#FFFFFF"/>
<rect x="915" y="0" width="1" height="19" fill="#A0A0A0"/><rect x="916" y="0" width="1" height="19" fill="#FFFFFF"/>
<rect x="919" y="1" width="3" height="1" fill="#A8A8A8"/>
<rect x="919" y="3" width="3" height="1" fill="#A8A8A8"/>
<rect x="919" y="5" width="3" height="1" fill="#A8A8A8"/>
<rect x="919" y="7" width="3" height="1" fill="#A8A8A8"/>
<rect x="919" y="9" width="3" height="1" fill="#A8A8A8"/>
<rect x="919" y="11" width="3" height="1" fill="#A8A8A8"/>
<rect x="919" y="13" width="3" height="1" fill="#A8A8A8"/>
<rect x="919" y="15" width="3" height="1" fill="#A8A8A8"/>
<rect x="919" y="17" width="3" height="1" fill="#A8A8A8"/>
<rect x="1065" y="0" width="1" height="19" fill="#A0A0A0"/><rect x="1066" y="0" width="1" height="19" fill="#FFFFFF"/>
<defs><pattern id="chk1066" width="2" height="2" patternUnits="userSpaceOnUse"><rect width="2" height="2" fill="#F8F8F8"/><rect width="1" height="1" fill="#E4E4E4"/><rect x="1" y="1" width="1" height="1" fill="#E4E4E4"/></pattern></defs>
<rect x="1066" y="0" width="24" height="19" fill="url(#chk1066)"/>
<rect x="1066" y="19" width="25" height="1" fill="#fff"/><rect x="1090" y="0" width="1" height="19" fill="#fff"/>
<rect x="1176" y="0" width="1" height="19" fill="#A0A0A0"/><rect x="1177" y="0" width="1" height="19" fill="#FFFFFF"/>
</g>
<g fill="#101010" shape-rendering="crispEdges"><rect x="37" y="2" width="1" height="1"/><rect x="34" y="3" width="6" height="1"/><rect x="35" y="4" width="1" height="2"/><rect x="38" y="4" width="1" height="2"/><rect x="34" y="6" width="7" height="1"/><rect x="34" y="8" width="7" height="1"/><rect x="37" y="6" width="1" height="7"/><rect x="36" y="9" width="1" height="1"/><rect x="35" y="10" width="1" height="1"/><rect x="34" y="11" width="1" height="1"/><rect x="38" y="9" width="1" height="1"/><rect x="39" y="10" width="1" height="1"/><rect x="40" y="11" width="1" height="1"/><rect x="44" y="2" width="1" height="1"/><rect x="41" y="3" width="3" height="1"/><rect x="41" y="3" width="1" height="9"/><rect x="40" y="12" width="1" height="1"/><rect x="41" y="6" width="5" height="1"/><rect x="43" y="6" width="1" height="7"/><rect x="47" y="2" width="1" height="1"/><rect x="48" y="3" width="1" height="1"/><rect x="46" y="6" width="3" height="1"/><rect x="48" y="6" width="1" height="6"/><rect x="49" y="10" width="1" height="1"/><rect x="50" y="9" width="1" height="1"/><rect x="50" y="3" width="8" height="1"/><rect x="54" y="3" width="1" height="10"/><rect x="51" y="12" width="3" height="1"/><rect x="60" y="2" width="1" height="1"/><rect x="61" y="3" width="1" height="1"/><rect x="67" y="2" width="1" height="1"/><rect x="66" y="3" width="1" height="1"/><rect x="59" y="4" width="10" height="1"/><rect x="59" y="6" width="10" height="1"/><rect x="59" y="8" width="10" height="1"/><rect x="59" y="4" width="1" height="5"/><rect x="68" y="4" width="1" height="5"/><rect x="63" y="4" width="1" height="9"/><rect x="58" y="10" width="12" height="1"/><rect x="190" y="2" width="1" height="1"/><rect x="187" y="3" width="10" height="1"/><rect x="187" y="3" width="1" height="10"/><rect x="196" y="3" width="1" height="10"/><rect x="187" y="6" width="10" height="1"/><rect x="187" y="9" width="10" height="1"/><rect x="187" y="12" width="10" height="1"/><rect x="199" y="3" width="5" height="1"/><rect x="198" y="6" width="7" height="1"/><rect x="201" y="7" width="1" height="1"/><rect x="200" y="8" width="1" height="1"/><rect x="200" y="9" width="1" height="1"/><rect x="199" y="10" width="1" height="1"/><rect x="199" y="11" width="1" height="1"/><rect x="200" y="11" width="3" height="1"/><rect x="203" y="9" width="1" height="1"/><rect x="204" y="10" width="1" height="1"/><rect x="204" y="5" width="5" height="1"/><rect x="208" y="5" width="1" height="7"/><rect x="206" y="12" width="2" height="1"/><rect x="205" y="2" width="1" height="6"/><rect x="204" y="8" width="1" height="1"/><rect x="204" y="9" width="1" height="1"/><rect x="203" y="10" width="1" height="1"/><rect x="203" y="11" width="1" height="1"/><rect x="202" y="12" width="1" height="1"/><rect x="215" y="2" width="1" height="1"/><rect x="210" y="4" width="12" height="1"/><rect x="213" y="6" width="1" height="1"/><rect x="212" y="7" width="1" height="1"/><rect x="211" y="8" width="1" height="1"/><rect x="218" y="6" width="1" height="1"/><rect x="219" y="7" width="1" height="1"/><rect x="220" y="8" width="1" height="1"/><rect x="213" y="8" width="1" height="1"/><rect x="214" y="9" width="1" height="1"/><rect x="215" y="9" width="1" height="1"/><rect x="216" y="10" width="1" height="1"/><rect x="217" y="11" width="1" height="1"/><rect x="218" y="11" width="1" height="1"/><rect x="219" y="12" width="1" height="1"/><rect x="220" y="12" width="1" height="1"/><rect x="218" y="8" width="1" height="1"/><rect x="217" y="9" width="1" height="1"/><rect x="215" y="10" width="1" height="1"/><rect x="214" y="11" width="1" height="1"/><rect x="213" y="11" width="1" height="1"/><rect x="212" y="12" width="1" height="1"/><rect x="211" y="12" width="1" height="1"/><rect x="223" y="2" width="9" height="1"/><rect x="223" y="4" width="9" height="1"/><rect x="223" y="6" width="9" height="1"/><rect x="223" y="2" width="1" height="5"/><rect x="231" y="2" width="1" height="5"/><rect x="222" y="8" width="11" height="1"/><rect x="225" y="7" width="1" height="1"/><rect x="226" y="9" width="1" height="1"/><rect x="225" y="10" width="1" height="1"/><rect x="224" y="11" width="1" height="1"/><rect x="223" y="12" width="1" height="1"/><rect x="229" y="9" width="1" height="1"/><rect x="228" y="10" width="1" height="1"/><rect x="227" y="11" width="1" height="1"/><rect x="226" y="12" width="1" height="1"/><rect x="232" y="8" width="1" height="4"/><rect x="229" y="12" width="3" height="1"/></g>
<path d="M15.5,1.5 L24,1.5 L26.5,4 L26.5,14.5 L15.5,14.5 Z" fill="#fff" stroke="#7a7a7a" stroke-width="1"/>
<path d="M17,4 h3 M17,7.5 h6 M17,9.5 h5 M17,11.5 h3" stroke="#888" stroke-width="1"/>
<path d="M22.5,7.5 h4 v4 h4 v4 h-4 v4 h-4 v-4 h-4 v-4 h4 Z" fill="#22DD22" stroke="#0A8A0A" stroke-width="1"/>
<defs><linearGradient id="gbook" x1="0" y1="0" x2="1" y2="1"><stop offset="0" stop-color="#FFE680"/><stop offset="0.5" stop-color="#E8B820"/><stop offset="1" stop-color="#C88A10"/></linearGradient><linearGradient id="gcloud" x1="0" y1="0" x2="0" y2="1"><stop offset="0" stop-color="#FFFFFF"/><stop offset="1" stop-color="#B8C4DC"/></linearGradient><linearGradient id="gsig" x1="0" y1="0" x2="1" y2="1"><stop offset="0" stop-color="#FFFFFF" stop-opacity="0"/><stop offset="1" stop-color="#40A040" stop-opacity="0.8"/></linearGradient></defs>
<path d="M87.3,2.3 L96.5,9.3 L97.5,11 L89.8,16.6 L82.5,10.8 Q85.5,7.5 87.3,2.3 Z" fill="url(#gbook)" stroke="#A86E18" stroke-width="0.9"/>
<path d="M83.5,11 L89.8,15.8 L96.8,10.2" fill="none" stroke="#F8E8A8" stroke-width="0.9"/>
<path d="M112,1.5 L120.5,1.5 L123,3 L123,10 L112,10 Z" fill="#1A90F0" stroke="#1070C8" stroke-width="0.6"/>
<path d="M112.5,2 L115.5,4.5 L115.5,10 M115.5,4.5 L123,4.5" fill="none" stroke="#C8E8FF" stroke-width="0.8"/>
<path d="M117,6.5 L122,6.5" stroke="#E0F2FF" stroke-width="1"/>
<path d="M111.5,16.5 Q109.6,16.3 110.2,13.6 Q110.8,11.4 113.2,11.8 Q114.2,9.1 117.6,9.3 Q120.6,9.3 121.6,11.2 Q125.6,10.8 126,13.8 Q126,16.5 124,16.5 Z" fill="url(#gcloud)" stroke="#3A5A98" stroke-width="0.9"/>
<path d="M146,8.6 L146,16.6 A8,8 0 0 0 154,8.6 Z" fill="url(#gsig)"/>
<circle cx="146" cy="8.6" r="7.4" fill="none" stroke="#4070D0" stroke-width="1.1" opacity="0.75"/>
<circle cx="146" cy="8.6" r="4.4" fill="none" stroke="#5A88D8" stroke-width="1" opacity="0.6"/>
<circle cx="146" cy="8.6" r="1.9" fill="#2050C8"/>
<path d="M146.2,9 L146.2,16.8" fill="none" stroke="#20A020" stroke-width="1.1"/>
<path d="M165.5,8.5 L180.5,7.5 L172.8,16.6 Z" fill="#F4DC60" stroke="#C89A28" stroke-width="0.8"/>
<path d="M165.5,6.5 Q165,4 169.5,4 Q170,1.3 173,1.3 Q176.3,1.3 176.6,4 Q181.2,3.8 180.8,6 Q180,8 173,8 Q166,8 165.5,6.5 Z" fill="#64BEEA" stroke="#2A80A8" stroke-width="0.9"/>
<circle cx="177.5" cy="12.9" r="4.2" fill="#E02A10" stroke="#A81808" stroke-width="0.7"/>
<rect x="176.1" y="11.5" width="2.8" height="2.8" fill="#fff"/>
<path d="M259.5,2.5 L259.5,16.5 M257,15.5 L271,15.5" stroke="#555" stroke-width="1" shape-rendering="crispEdges"/>
<path d="M258,4 L259.5,2 L261,4 M269,14 L271,15.5 L269,17" fill="none" stroke="#555" stroke-width="1"/>
<path d="M266.5,4.5 L266.5,12.5 M266.5,5 L268.5,5 M266.5,12 L264,12" stroke="#20A020" stroke-width="1.2" fill="none"/>
<path d="M287.5,2.5 L287.5,16.5 M285,15.5 L299,15.5" stroke="#555" stroke-width="1" shape-rendering="crispEdges"/>
<path d="M286,4 L287.5,2 L289,4 M297,14 L299,15.5 L297,17" fill="none" stroke="#555" stroke-width="1"/>
<path d="M293.5,1 L293.5,13" stroke="#107010" stroke-width="1"/><rect x="291.5" y="3.5" width="4" height="7" fill="#30E030" stroke="#107010" stroke-width="0.8"/>
<path d="M315.5,2.5 L315.5,16.5 M313,15.5 L327,15.5" stroke="#555" stroke-width="1" shape-rendering="crispEdges"/>
<path d="M314,4 L315.5,2 L317,4 M325,14 L327,15.5 L325,17" fill="none" stroke="#555" stroke-width="1"/>
<path d="M314.5,12 Q319,4.5 322,6.5 L326,10" fill="none" stroke="#20A020" stroke-width="1.1"/>
<path d="M355,11 L360,16" stroke="#C8A830" stroke-width="2.4"/>
<circle cx="351" cy="7" r="5.3" fill="#DDEEFF" stroke="#2A6CC0" stroke-width="1.2"/>
<path d="M348,7 h6" stroke="#3A78C8" stroke-width="1.6"/>
<path d="M351,4 v6" stroke="#3A78C8" stroke-width="1.6"/>
<path d="M383,11 L388,16" stroke="#C8A830" stroke-width="2.4"/>
<circle cx="379" cy="7" r="5.3" fill="#DDEEFF" stroke="#2A6CC0" stroke-width="1.2"/>
<path d="M376,7 h6" stroke="#3A78C8" stroke-width="1.6"/>
<g shape-rendering="crispEdges">
<rect x="401" y="1" width="8" height="8" fill="#30A030"/><rect x="402" y="4" width="6" height="3" fill="#E8F0E8"/>
<rect x="409" y="1" width="8" height="8" fill="#2A5FD0"/><rect x="410" y="4" width="6" height="3" fill="#E8F0E8"/>
<rect x="401" y="9" width="8" height="8" fill="#2A5FD0"/><rect x="402" y="12" width="6" height="3" fill="#E8F0E8"/>
<rect x="409" y="9" width="8" height="8" fill="#30A030"/><rect x="410" y="12" width="6" height="3" fill="#E8F0E8"/>
</g>
<path d="M439.5,2.5 L439.5,16.5 M437,15.5 L451,15.5" stroke="#555" stroke-width="1" shape-rendering="crispEdges"/>
<path d="M438,4 L439.5,2 L441,4 M449,14 L451,15.5 L449,17" fill="none" stroke="#555" stroke-width="1"/>
<path d="M444.5,5.5 L448.3,8.7 L444.5,12 Z" fill="#50D050" stroke="#20A020" stroke-width="0.8"/>
<path d="M467.5,2.5 L467.5,16.5 M465,15.5 L479,15.5" stroke="#555" stroke-width="1" shape-rendering="crispEdges"/>
<path d="M466,4 L467.5,2 L469,4 M477,14 L479,15.5 L477,17" fill="none" stroke="#555" stroke-width="1"/>
<path d="M473.5,3 L473.5,13" stroke="#2060C0" stroke-width="1"/><path d="M479,8 L475,8 M476.5,6 L474.5,8 L476.5,10" stroke="#E04010" stroke-width="1.2" fill="none"/>
<path d="M498.5,1.5 L507,1.5 L509.5,4 L509.5,14.5 L498.5,14.5 Z" fill="#fff" stroke="#7a7a7a" stroke-width="1"/>
<path d="M502.5,3.5 Q501,3.5 501,6 L501,12 M500,7 L503,7" stroke="#666" stroke-width="0.9" fill="none"/>
<path d="M506,7.5 h4 v4 h4 v4 h-4 v4 h-4 v-4 h-4 v-4 h4 Z" fill="#30E040" stroke="#0A8A0A" stroke-width="1"/>
<path d="M519,8 L525,8 L522,11 Z" fill="#000"/>
<circle cx="543.9" cy="8.9" r="7.2" fill="#1A70D8" stroke="#0A4CA8" stroke-width="1"/>
<circle cx="543.9" cy="8.9" r="5.2" fill="#F6F8FC"/>
<path d="M543.2,5.2 L543.2,9 L546.2,9.6" stroke="#222" stroke-width="1" fill="none"/>
<path d="M543.9,4.2 v0.8 M543.9,12.8 v0.8 M539.2,8.9 h0.8 M547.8,8.9 h0.8" stroke="#888" stroke-width="0.7"/>
<path d="M559,8 L565,8 L562,11 Z" fill="#000"/>
<rect x="574.5" y="2.5" width="16" height="12.5" fill="#F4F8FF" stroke="#2A6CC0" stroke-width="1"/>
<rect x="575" y="3" width="15" height="2" fill="#5A9CE8"/>
<path d="M576,7.5 L578.5,7.5 L580.5,6 L582.5,7 L584.5,7 L586.5,6 L589,6" fill="none" stroke="#A02A10" stroke-width="1.1"/>
<path d="M577,13 L579,12 L581,13 L583,12.5 L585,11 L587.5,13" fill="none" stroke="#20A020" stroke-width="1.1"/>
<path d="M575,10.5 h15" stroke="#6a8ac8" stroke-width="0.6"/>
<path d="M597,8 L603,8 L600,11 Z" fill="#000"/>
<path d="M627,2.3 L627,13.5 L629.8,11 L632.2,16 L634,15 L631.7,10.2 L635,9.8 Z" fill="#505050"/>
<path d="M659.5,2 L659.5,8 M659.5,11 L659.5,17 M652,9.5 L658,9.5 M661,9.5 L667,9.5" stroke="#555" stroke-width="1" shape-rendering="crispEdges"/>
<path d="M693.5,3 L693.5,16" stroke="#555" stroke-width="1" shape-rendering="crispEdges"/>
<path d="M715,9.5 L728,9.5" stroke="#555" stroke-width="1" shape-rendering="crispEdges"/>
<path d="M743.5,16 L756,3.5" stroke="#666" stroke-width="1.1"/>
<path d="M769,13 L781,2 M770.5,15.5 L782.5,4.5 M772,11 L773.5,14.5 M775,8.5 L776.5,12 M778,6 L779.5,9.5" stroke="#666" stroke-width="1" fill="none"/>
<text x="780" y="17.8" font-size="7" font-weight="bold" fill="#444">E</text>
<g fill="#777" shape-rendering="crispEdges">
<rect x="799" y="2" width="1" height="1"/>
<rect x="801" y="2" width="1" height="1"/>
<rect x="803" y="2" width="1" height="1"/>
<rect x="805" y="2" width="1" height="1"/>
<rect x="807" y="2" width="1" height="1"/>
<rect x="809" y="2" width="1" height="1"/>
<rect x="811" y="2" width="1" height="1"/>
<rect x="799" y="5" width="1" height="1"/>
<rect x="801" y="5" width="1" height="1"/>
<rect x="803" y="5" width="1" height="1"/>
<rect x="805" y="5" width="1" height="1"/>
<rect x="807" y="5" width="1" height="1"/>
<rect x="809" y="5" width="1" height="1"/>
<rect x="811" y="5" width="1" height="1"/>
<rect x="799" y="9" width="1" height="1"/>
<rect x="801" y="9" width="1" height="1"/>
<rect x="803" y="9" width="1" height="1"/>
<rect x="805" y="9" width="1" height="1"/>
<rect x="807" y="9" width="1" height="1"/>
<rect x="809" y="9" width="1" height="1"/>
<rect x="811" y="9" width="1" height="1"/>
<rect x="799" y="13" width="1" height="1"/>
<rect x="801" y="13" width="1" height="1"/>
<rect x="803" y="13" width="1" height="1"/>
<rect x="805" y="13" width="1" height="1"/>
</g>
<text x="808.5" y="17.8" font-size="7" font-weight="bold" fill="#444">F</text>
<text x="829.5" y="14" font-size="11" font-weight="bold" fill="#606060">A</text>
<g fill="#888" shape-rendering="crispEdges">
<rect x="856" y="3" width="1" height="1"/><rect x="856" y="15" width="1" height="1"/>
<rect x="858" y="3" width="1" height="1"/><rect x="858" y="15" width="1" height="1"/>
<rect x="860" y="3" width="1" height="1"/><rect x="860" y="15" width="1" height="1"/>
<rect x="862" y="3" width="1" height="1"/><rect x="862" y="15" width="1" height="1"/>
<rect x="864" y="3" width="1" height="1"/><rect x="864" y="15" width="1" height="1"/>
<rect x="866" y="3" width="1" height="1"/><rect x="866" y="15" width="1" height="1"/>
<rect x="856" y="3" width="1" height="1"/><rect x="867" y="3" width="1" height="1"/>
<rect x="856" y="5" width="1" height="1"/><rect x="867" y="5" width="1" height="1"/>
<rect x="856" y="7" width="1" height="1"/><rect x="867" y="7" width="1" height="1"/>
<rect x="856" y="9" width="1" height="1"/><rect x="867" y="9" width="1" height="1"/>
<rect x="856" y="11" width="1" height="1"/><rect x="867" y="11" width="1" height="1"/>
<rect x="856" y="13" width="1" height="1"/><rect x="867" y="13" width="1" height="1"/>
<rect x="856" y="15" width="1" height="1"/><rect x="867" y="15" width="1" height="1"/>
</g>
<text x="857.8" y="13.5" font-size="11" font-weight="bold" fill="#606060">T</text>
<path d="M885.5,3.5 L888,6 L885.5,8.5 L883,6 Z M893.5,9.5 L896,12 L893.5,14.5 L891,12 Z" fill="#555"/>
<path d="M885,9 L887.5,12 L892,7" fill="none" stroke="#555" stroke-width="1.2"/>
<path d="M904,8 L910,8 L907,11 Z" fill="#000"/>
<text x="930" y="13" font-size="10.5" textLength="13" lengthAdjust="spacingAndGlyphs" fill="#404040">M1</text>
<text x="958" y="13" font-size="10.5" textLength="13" lengthAdjust="spacingAndGlyphs" fill="#404040">M5</text>
<text x="984" y="13" font-size="10.5" textLength="18.5" lengthAdjust="spacingAndGlyphs" fill="#404040">M15</text>
<text x="1012.5" y="13" font-size="10.5" textLength="17.5" lengthAdjust="spacingAndGlyphs" fill="#404040">M30</text>
<text x="1043" y="13" font-size="10.5" textLength="12.5" lengthAdjust="spacingAndGlyphs" fill="#404040">H1</text>
<text x="1070" y="13" font-size="10.5" textLength="12.5" lengthAdjust="spacingAndGlyphs" fill="#404040">H4</text>
<text x="1099" y="13" font-size="10.5" textLength="12" lengthAdjust="spacingAndGlyphs" fill="#404040">D1</text>
<text x="1126" y="13" font-size="10.5" textLength="15" lengthAdjust="spacingAndGlyphs" fill="#404040">W1</text>
<text x="1153" y="13" font-size="10.5" textLength="15" lengthAdjust="spacingAndGlyphs" fill="#404040">MN</text>
<path d="M1639.5,14 L1644,9.5" stroke="#2050C8" stroke-width="2.2"/>
<circle cx="1646.8" cy="6.3" r="3.9" fill="none" stroke="#2A5FD8" stroke-width="1.3"/>
<path d="M1664,12 Q1664,7 1670,7 Q1676,7 1676,12 Q1676,16 1670,16 L1667,18 L1667.5,15.5 Q1664,14.5 1664,12 Z" fill="#E4E6EC" stroke="#B8BCC4" stroke-width="0.8"/>
<circle cx="1677.7" cy="6.6" r="8" fill="#E03818"/>
<text x="1674" y="11" font-size="12" font-weight="bold" fill="#fff">1</text>
</svg></body></html>
